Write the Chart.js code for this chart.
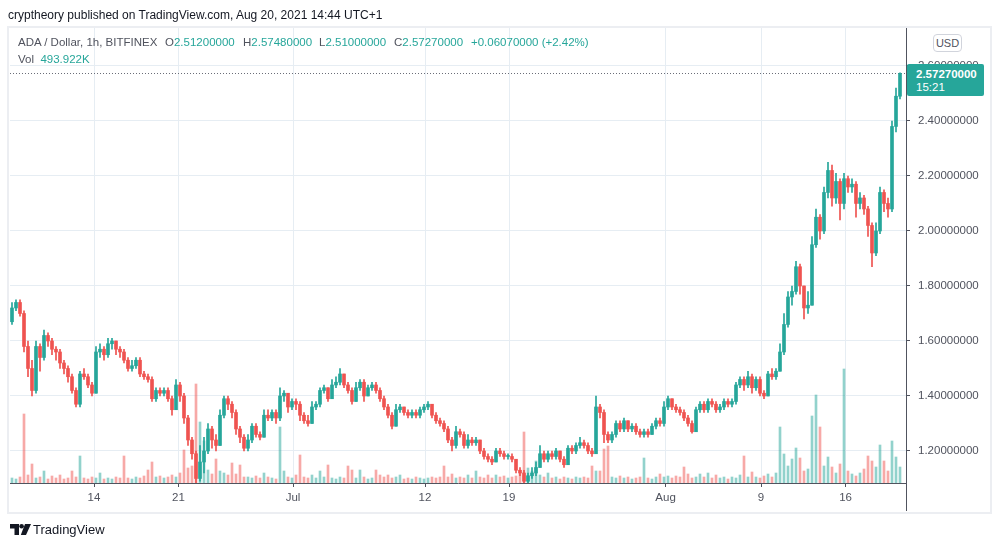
<!DOCTYPE html>
<html>
<head>
<meta charset="utf-8">
<script src="https://cdn.jsdelivr.net/npm/chart.js@4.4.1/dist/chart.umd.min.js"></script>
<style>
  html, body { margin: 0; padding: 0; background: #fff; }
  body { width: 998px; height: 547px; position: relative; overflow: hidden; font-family: "Liberation Sans", Arial, sans-serif; color: #131722; }
  #grafico { position: absolute; left: 0; top: 0; }
  .marco { position: absolute; left: 7px; top: 26px; width: 981px; height: 484px; border: 2px solid #eceef2; }
  .txt { position: absolute; white-space: nowrap; font-size: 12px; line-height: 14px; }
  .cab { font-size: 11.5px; }
  .gris { color: #50535e; }
  .verde { color: #26a69a; }
  .usd { position: absolute; left: 933px; top: 34px; width: 27px; height: 16px; border: 1px solid #d1d4dc; border-radius: 4px; font-size: 11px; line-height: 16px; text-align: center; color: #50535e; background: #fff; }
  .precio { position: absolute; left: 907px; top: 64px; width: 77px; height: 32px; background: #26a69a; color: #fff; border-radius: 2px; }
  .precio div { position: absolute; left: 9px; font-size: 11.5px; line-height: 13px; }
</style>
</head>
<body>
<div class="marco"></div>
<canvas id="grafico" width="998" height="547"></canvas>

<div class="txt" style="left:8px; top:8px; color:#131722;">cryptheory published on TradingView.com, Aug 20, 2021 14:44 UTC+1</div>
<div class="txt cab gris" style="left:18px; top:35px;">ADA / Dollar, 1h, BITFINEX</div>
<div class="txt cab" style="left:165px; top:35px;"><span class="gris">O</span><span class="verde">2.51200000</span></div>
<div class="txt cab" style="left:243px; top:35px;"><span class="gris">H</span><span class="verde">2.57480000</span></div>
<div class="txt cab" style="left:319px; top:35px;"><span class="gris">L</span><span class="verde">2.51000000</span></div>
<div class="txt cab" style="left:394px; top:35px;"><span class="gris">C</span><span class="verde">2.57270000</span></div>
<div class="txt cab verde" style="left:471px; top:35px;">+0.06070000 (+2.42%)</div>
<div class="txt cab" style="left:18px; top:52px;"><span class="gris">Vol</span>&nbsp; <span class="verde">493.922K</span></div>
<div class="usd">USD</div>
<div class="precio">
  <div style="top:4px; font-weight:bold;">2.57270000</div>
  <div style="top:17px;">15:21</div>
</div>
<div class="txt" style="left:10px; top:522px; font-size:13px; line-height:15px;">
  <svg width="21" height="11" viewBox="0 0 21 11" style="vertical-align:-1px;"><path d="M0 0h9v11h-4.5v-6.5h-4.5z" fill="#131722"/><circle cx="11.6" cy="2.3" r="2.3" fill="#131722"/><path d="M15 0h6l-5 11h-5.2z" fill="#131722"/></svg><span style="margin-left:2px;">TradingView</span>
</div>

<script>
// ADA / Dollar, 1h, BITFINEX, un valor cada ~4 px (≈ 8 velas horarias)
const cierres = [
  1.72, 1.74, 1.70, 1.58, 1.50, 1.42, 1.58, 1.54, 1.62, 1.60,
  1.57, 1.56, 1.52, 1.50, 1.47, 1.42, 1.37, 1.48, 1.47, 1.44,
  1.41, 1.56, 1.57, 1.55, 1.59, 1.60, 1.57, 1.56, 1.53, 1.50,
  1.51, 1.53, 1.48, 1.47, 1.46, 1.39, 1.42, 1.41, 1.42, 1.39,
  1.35, 1.44, 1.40, 1.32, 1.24, 1.19, 1.10, 1.16, 1.20, 1.28,
  1.24, 1.22, 1.33, 1.39, 1.37, 1.34, 1.28, 1.25, 1.21, 1.24,
  1.29, 1.26, 1.25, 1.33, 1.32, 1.34, 1.32, 1.40, 1.41, 1.36,
  1.38, 1.37, 1.33, 1.31, 1.30, 1.36, 1.37, 1.42, 1.43, 1.39,
  1.44, 1.45, 1.48, 1.44, 1.42, 1.38, 1.43, 1.45, 1.40, 1.43,
  1.44, 1.42, 1.39, 1.36, 1.33, 1.29, 1.35, 1.36, 1.34, 1.33,
  1.34, 1.33, 1.35, 1.36, 1.37, 1.33, 1.31, 1.30, 1.28, 1.24,
  1.22, 1.27, 1.26, 1.22, 1.24, 1.23, 1.24, 1.20, 1.18, 1.17,
  1.16, 1.20, 1.19, 1.18, 1.18, 1.17, 1.13, 1.12, 1.09, 1.11,
  1.12, 1.14, 1.19, 1.17, 1.19, 1.18, 1.20, 1.17, 1.15, 1.21,
  1.20, 1.22, 1.23, 1.22, 1.20, 1.19, 1.36, 1.34, 1.26, 1.24,
  1.26, 1.30, 1.28, 1.31, 1.28, 1.29, 1.27, 1.26, 1.27, 1.26,
  1.29, 1.31, 1.30, 1.36, 1.39, 1.36, 1.35, 1.34, 1.32, 1.30,
  1.27, 1.35, 1.37, 1.35, 1.38, 1.37, 1.35, 1.36, 1.38, 1.37,
  1.38, 1.44, 1.46, 1.44, 1.47, 1.43, 1.46, 1.41, 1.40, 1.48,
  1.47, 1.49, 1.56, 1.66, 1.76, 1.78, 1.87, 1.80, 1.72, 1.73,
  1.95, 2.05, 2.00, 2.14, 2.22, 2.12, 2.18, 2.10, 2.19, 2.16,
  2.17, 2.10, 2.12, 2.08, 2.02, 1.92, 2.00, 2.14, 2.10, 2.08,
  2.38, 2.49, 2.5727
];
const maximos = [
  1.74, 1.75, 1.75, 1.71, 1.60, 1.53, 1.60, 1.59, 1.64, 1.63,
  1.61, 1.58, 1.57, 1.53, 1.51, 1.48, 1.43, 1.49, 1.50, 1.48,
  1.45, 1.58, 1.59, 1.58, 1.61, 1.61, 1.60, 1.58, 1.57, 1.54,
  1.53, 1.54, 1.54, 1.49, 1.48, 1.47, 1.43, 1.43, 1.43, 1.43,
  1.40, 1.46, 1.45, 1.41, 1.33, 1.25, 1.20, 1.22, 1.25, 1.30,
  1.29, 1.26, 1.35, 1.40, 1.40, 1.38, 1.35, 1.29, 1.26, 1.26,
  1.30, 1.30, 1.27, 1.35, 1.35, 1.35, 1.35, 1.43, 1.42, 1.41,
  1.39, 1.39, 1.38, 1.34, 1.33, 1.38, 1.38, 1.43, 1.44, 1.43,
  1.46, 1.47, 1.50, 1.48, 1.45, 1.43, 1.45, 1.46, 1.46, 1.44,
  1.45, 1.45, 1.43, 1.40, 1.37, 1.34, 1.37, 1.37, 1.36, 1.35,
  1.35, 1.35, 1.36, 1.37, 1.38, 1.37, 1.34, 1.32, 1.31, 1.29,
  1.25, 1.29, 1.28, 1.27, 1.26, 1.25, 1.25, 1.24, 1.21, 1.19,
  1.18, 1.21, 1.21, 1.20, 1.19, 1.19, 1.17, 1.14, 1.13, 1.12,
  1.14, 1.16, 1.22, 1.20, 1.20, 1.20, 1.21, 1.20, 1.18, 1.22,
  1.22, 1.23, 1.25, 1.24, 1.23, 1.21, 1.40, 1.37, 1.35, 1.27,
  1.27, 1.31, 1.31, 1.32, 1.31, 1.30, 1.30, 1.28, 1.28, 1.28,
  1.30, 1.32, 1.32, 1.38, 1.40, 1.39, 1.37, 1.36, 1.35, 1.33,
  1.31, 1.36, 1.38, 1.38, 1.39, 1.39, 1.38, 1.37, 1.39, 1.39,
  1.39, 1.45, 1.47, 1.47, 1.49, 1.48, 1.47, 1.47, 1.42, 1.49,
  1.50, 1.50, 1.59, 1.70, 1.78, 1.80, 1.89, 1.88, 1.80, 1.78,
  1.98, 2.08, 2.06, 2.16, 2.25, 2.24, 2.21, 2.19, 2.21, 2.20,
  2.19, 2.18, 2.14, 2.13, 2.09, 2.03, 2.03, 2.16, 2.15, 2.12,
  2.40, 2.52, 2.5748
];
const minimos = [
  1.66, 1.71, 1.69, 1.56, 1.47, 1.40, 1.41, 1.49, 1.53, 1.58,
  1.55, 1.53, 1.50, 1.48, 1.45, 1.41, 1.36, 1.36, 1.46, 1.43,
  1.40, 1.41, 1.54, 1.53, 1.54, 1.57, 1.55, 1.54, 1.52, 1.49,
  1.49, 1.50, 1.47, 1.46, 1.45, 1.38, 1.38, 1.40, 1.40, 1.38,
  1.33, 1.35, 1.38, 1.30, 1.22, 1.17, 1.08, 1.09, 1.12, 1.19,
  1.21, 1.20, 1.22, 1.32, 1.35, 1.32, 1.26, 1.23, 1.20, 1.20,
  1.23, 1.25, 1.24, 1.25, 1.31, 1.31, 1.30, 1.31, 1.38, 1.34,
  1.35, 1.35, 1.31, 1.30, 1.29, 1.30, 1.35, 1.36, 1.41, 1.38,
  1.39, 1.43, 1.44, 1.43, 1.41, 1.37, 1.38, 1.42, 1.38, 1.40,
  1.42, 1.41, 1.38, 1.35, 1.32, 1.28, 1.29, 1.34, 1.33, 1.32,
  1.32, 1.32, 1.32, 1.34, 1.35, 1.32, 1.30, 1.29, 1.27, 1.23,
  1.20, 1.21, 1.25, 1.21, 1.21, 1.22, 1.22, 1.19, 1.17, 1.16,
  1.15, 1.16, 1.18, 1.17, 1.17, 1.16, 1.12, 1.11, 1.08, 1.085,
  1.10, 1.11, 1.14, 1.16, 1.16, 1.17, 1.17, 1.16, 1.14, 1.15,
  1.19, 1.19, 1.21, 1.21, 1.19, 1.18, 1.19, 1.32, 1.23, 1.23,
  1.23, 1.25, 1.27, 1.27, 1.27, 1.27, 1.26, 1.25, 1.25, 1.25,
  1.26, 1.28, 1.29, 1.29, 1.35, 1.35, 1.34, 1.33, 1.31, 1.29,
  1.265, 1.27, 1.34, 1.34, 1.34, 1.36, 1.34, 1.34, 1.35, 1.36,
  1.36, 1.37, 1.43, 1.42, 1.43, 1.41, 1.42, 1.40, 1.39, 1.40,
  1.46, 1.46, 1.49, 1.55, 1.65, 1.73, 1.77, 1.77, 1.68, 1.70,
  1.73, 1.94, 1.97, 1.99, 2.12, 2.09, 2.10, 2.04, 2.08, 2.14,
  2.14, 2.05, 2.08, 2.06, 1.98, 1.87, 1.91, 1.99, 2.07, 2.05,
  2.07, 2.36, 2.48
];
const aperturaInicial = 1.67;
const ultimoPrecio = 2.5727;

// volumen (unidades relativas)
const volumenes = [
  5, 4, 6, 69, 8, 19, 5, 6, 12, 4,
  7, 5, 8, 4, 5, 12, 6, 27, 5, 4,
  6, 5, 10, 4, 5, 4, 6, 5, 27, 5,
  4, 6, 5, 7, 13, 21, 6, 7, 5, 6,
  8, 6, 10, 33, 15, 17, 99, 61, 42, 13,
  9, 24, 12, 10, 8, 20, 9, 18, 6, 6,
  5, 7, 5, 10, 6, 5, 4, 56, 12, 6,
  5, 8, 28, 6, 5, 8, 5, 12, 6, 18,
  5, 4, 6, 5, 17, 13, 5, 13, 6, 4,
  5, 13, 8, 6, 8, 5, 6, 8, 4, 5,
  4, 6, 5, 4, 5, 6, 5, 6, 17, 6,
  9, 5, 6, 5, 8, 5, 12, 6, 5, 8,
  5, 8, 6, 7, 5, 6, 7, 11, 51, 15,
  12, 22, 8, 6, 10, 5, 6, 4, 6, 5,
  4, 6, 5, 6, 5, 17, 12, 12, 34, 37,
  6, 5, 7, 5, 6, 4, 5, 6, 25, 5,
  4, 6, 9, 6, 7, 5, 7, 6, 16, 9,
  5, 6, 9, 6, 10, 5, 8, 5, 6, 4,
  6, 5, 8, 27, 6, 11, 6, 5, 7, 9,
  6, 10, 56, 29, 17, 24, 35, 25, 12, 14,
  67, 88, 56, 17, 26, 16, 10, 19, 114, 12,
  9, 7, 10, 14, 27, 22, 16, 38, 22, 12,
  42, 26, 16
];

// etiquetas del eje de tiempo (posición en índice de vela)
const ticksX = [20.5, 41.6, 70.25, 103.25, 124.25, 163.4, 187.25, 208.4];
const etiquetasX = ['14', '21', 'Jul', '12', '19', 'Aug', '9', '16'];
const ticksY = [1.2, 1.4, 1.6, 1.8, 2.0, 2.2, 2.4, 2.6];

const VERDE = '#26a69a';
const ROJO = '#ef5350';

const aperturas = cierres.map((c, i) => (i === 0 ? aperturaInicial : cierres[i - 1]));
const sube = cierres.map((c, i) => c >= aperturas[i]);
const colores = sube.map(s => (s ? VERDE : ROJO));

const velas = cierres.map((c, i) => ({ x: i, y: [aperturas[i], c] }));
const mechas = cierres.map((c, i) => ({ x: i, y: [minimos[i], maximos[i]] }));
const barrasVol = volumenes.map((v, i) => ({ x: i, y: v }));

// línea punteada del último precio + prolongación del eje derecho
const lineaPrecio = {
  id: 'lineaPrecio',
  beforeDatasetsDraw(chart) {
    const { ctx, chartArea, scales } = chart;
    const y = Math.round(scales.y.getPixelForValue(ultimoPrecio)) + 0.5;
    ctx.save();
    ctx.strokeStyle = '#6a6d78';
    ctx.lineWidth = 1;
    ctx.setLineDash([1, 2]);
    ctx.beginPath();
    ctx.moveTo(chartArea.left, y);
    ctx.lineTo(chartArea.right, y);
    ctx.stroke();
    ctx.restore();
  },
  afterDraw(chart) {
    const { ctx, chartArea } = chart;
    const x = Math.round(chartArea.right) + 0.5;
    ctx.save();
    ctx.strokeStyle = '#50535e';
    ctx.lineWidth = 1;
    ctx.beginPath();
    ctx.moveTo(x, chartArea.bottom);
    ctx.lineTo(x, 511);
    ctx.stroke();
    ctx.restore();
  }
};

Chart.defaults.font.family = '"Liberation Sans", Arial, sans-serif';
Chart.defaults.color = '#50535e';

new Chart(document.getElementById('grafico'), {
  type: 'bar',
  data: {
    datasets: [
      {
        label: 'ADA',
        data: velas,
        yAxisID: 'y',
        backgroundColor: colores,
        barThickness: 3,
        minBarLength: 1,
        grouped: false,
        order: 0
      },
      {
        label: 'Mechas',
        data: mechas,
        yAxisID: 'y',
        backgroundColor: colores,
        barThickness: 1,
        grouped: false,
        order: 1
      },
      {
        label: 'Vol',
        data: barrasVol,
        yAxisID: 'yv',
        backgroundColor: sube.map(s => (s ? 'rgba(38,166,154,0.5)' : 'rgba(239,83,80,0.5)')),
        barThickness: 2,
        grouped: false,
        order: 2
      }
    ]
  },
  options: {
    responsive: false,
    animation: false,
    layout: { padding: { left: 10, top: 28, right: 8, bottom: 35 } },
    plugins: { legend: { display: false }, tooltip: { enabled: false } },
    scales: {
      x: {
        type: 'linear',
        offset: false,
        min: -0.5,
        max: 223.5,
        afterBuildTicks: s => { s.ticks = ticksX.map(v => ({ value: v })); },
        afterFit: s => { s.height = 29; },
        ticks: {
          autoSkip: false,
          maxRotation: 0,
          padding: 4,
          font: { size: 11.5 },
          color: '#50535e',
          callback: (v, i) => etiquetasX[i]
        },
        grid: { offset: false, color: '#e6edf3', tickColor: '#50535e', tickLength: 4 },
        border: { color: '#50535e' }
      },
      y: {
        position: 'right',
        min: 1.0836,
        max: 2.738,
        afterBuildTicks: s => { s.ticks = ticksY.map(v => ({ value: v })); },
        afterFit: s => { s.width = 84; },
        ticks: {
          padding: 8,
          font: { size: 11.5 },
          color: '#50535e',
          callback: v => v.toFixed(8)
        },
        grid: { color: '#e6edf3', tickColor: '#50535e', tickLength: 4 },
        border: { color: '#50535e' }
      },
      yv: {
        display: false,
        min: 0,
        max: 455
      }
    }
  },
  plugins: [lineaPrecio]
});
</script>
</body>
</html>
